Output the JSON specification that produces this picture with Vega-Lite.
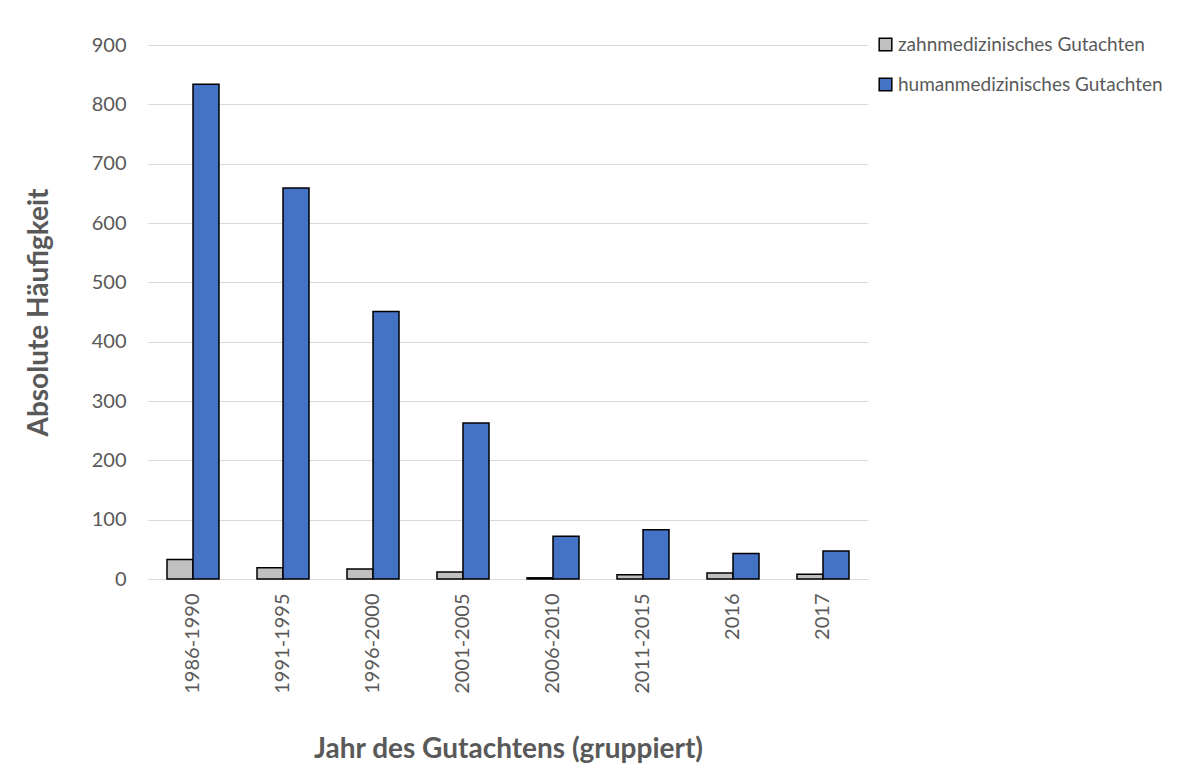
{
  "$schema": "https://vega.github.io/schema/vega-lite/v6.json",
  "width": 720,
  "height": 534,
  "autosize": {"type": "none"},
  "padding": {"left": 148, "top": 45, "right": 314, "bottom": 191},
  "background": "white",
  "config": {
    "font": "Lato",
    "view": {"stroke": null},
    "axis": {"labelColor": "#595959", "titleColor": "#595959", "labelFont": "Lato", "titleFont": "Lato"}
  },
  "data": {
    "values": [
      {"Jahr": "1986-1990", "Art": "zahnmedizinisches Gutachten", "n": 33},
      {"Jahr": "1986-1990", "Art": "humanmedizinisches Gutachten", "n": 834},
      {"Jahr": "1991-1995", "Art": "zahnmedizinisches Gutachten", "n": 19},
      {"Jahr": "1991-1995", "Art": "humanmedizinisches Gutachten", "n": 659},
      {"Jahr": "1996-2000", "Art": "zahnmedizinisches Gutachten", "n": 17},
      {"Jahr": "1996-2000", "Art": "humanmedizinisches Gutachten", "n": 451},
      {"Jahr": "2001-2005", "Art": "zahnmedizinisches Gutachten", "n": 12},
      {"Jahr": "2001-2005", "Art": "humanmedizinisches Gutachten", "n": 263},
      {"Jahr": "2006-2010", "Art": "zahnmedizinisches Gutachten", "n": 2},
      {"Jahr": "2006-2010", "Art": "humanmedizinisches Gutachten", "n": 72},
      {"Jahr": "2011-2015", "Art": "zahnmedizinisches Gutachten", "n": 7},
      {"Jahr": "2011-2015", "Art": "humanmedizinisches Gutachten", "n": 83},
      {"Jahr": "2016", "Art": "zahnmedizinisches Gutachten", "n": 10},
      {"Jahr": "2016", "Art": "humanmedizinisches Gutachten", "n": 43},
      {"Jahr": "2017", "Art": "zahnmedizinisches Gutachten", "n": 8},
      {"Jahr": "2017", "Art": "humanmedizinisches Gutachten", "n": 47}
    ]
  },
  "mark": {"type": "bar", "stroke": "black", "strokeWidth": 1.5},
  "encoding": {
    "x": {
      "field": "Jahr",
      "type": "nominal",
      "sort": null,
      "scale": {"paddingInner": 0.422, "paddingOuter": 0.211},
      "axis": {
        "title": "Jahr des Gutachtens (gruppiert)",
        "titleFontSize": 28,
        "titleFontWeight": "bold",
        "titlePadding": 42,
        "labelAngle": -90,
        "labelFontSize": 20,
        "labelPadding": 14,
        "ticks": false,
        "domainColor": "#d9d9d9",
        "domainWidth": 1
      }
    },
    "xOffset": {
      "field": "Art",
      "type": "nominal",
      "sort": ["zahnmedizinisches Gutachten", "humanmedizinisches Gutachten"],
      "scale": {"paddingInner": 0, "paddingOuter": 0}
    },
    "y": {
      "field": "n",
      "type": "quantitative",
      "scale": {"domain": [0, 900]},
      "axis": {
        "title": "Absolute Häufigkeit",
        "titleFontSize": 28,
        "titleFontWeight": "bold",
        "titlePadding": 38,
        "values": [0, 100, 200, 300, 400, 500, 600, 700, 800, 900],
        "labelFontSize": 20,
        "labelPadding": 22,
        "ticks": false,
        "domain": false,
        "gridColor": "#d9d9d9",
        "gridWidth": 1
      }
    },
    "color": {
      "field": "Art",
      "type": "nominal",
      "sort": ["zahnmedizinisches Gutachten", "humanmedizinisches Gutachten"],
      "scale": {"domain": ["zahnmedizinisches Gutachten", "humanmedizinisches Gutachten"], "range": ["#c0c0c0", "#4472c4"]},
      "legend": {
        "title": null,
        "orient": "none",
        "legendX": 728,
        "legendY": -10,
        "symbolType": "square",
        "symbolSize": 160,
        "symbolStrokeColor": "black",
        "symbolStrokeWidth": 1.5,
        "labelFontSize": 19,
        "labelColor": "#595959",
        "labelFont": "Lato",
        "labelLimit": 0,
        "rowPadding": 20,
        "labelOffset": 3
      }
    }
  }
}
